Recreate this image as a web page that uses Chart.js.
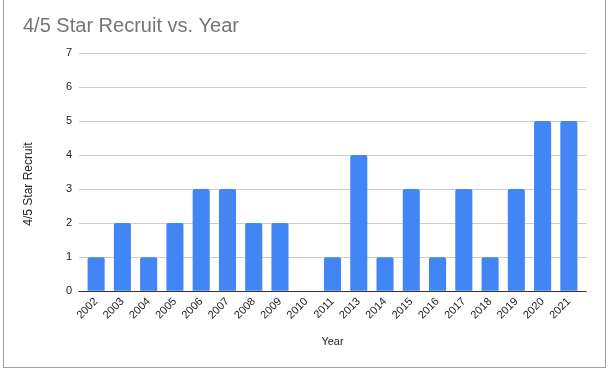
<!DOCTYPE html>
<html><head><meta charset="utf-8">
<script src="https://cdn.jsdelivr.net/npm/chart.js@4"></script>
<style>
html,body{margin:0;padding:0;background:#fff;width:608px;height:371px;overflow:hidden;}
#card{position:absolute;left:3px;top:-1px;width:603px;height:369px;border:1px solid #9e9e9e;border-top:none;box-sizing:border-box;}
canvas{position:absolute;left:0;top:0;}
</style></head>
<body>
<div id="card"></div>
<canvas id="c" width="608" height="371"></canvas>
<script>
const years = ["2002","2003","2004","2005","2006","2007","2008","2009","2010","2011","2013","2014","2015","2016","2017","2018","2019","2020","2021"];
const recruits = [1,2,1,2,3,3,2,2,0,1,4,1,3,1,3,1,3,5,5];
const yTicks = [0,1,2,3,4,5,6,7];
const yTitle = '4/5 Star Recruit';

const font = "'Liberation Sans', Arial, sans-serif";

const extras = {
  id: 'extras',
  afterDraw(chart) {
    const ctx = chart.ctx, ca = chart.chartArea, y = chart.scales.y;
    ctx.save();
    // extend gridlines slightly beyond the plot on the right
    y.ticks.forEach(t => {
      const py = Math.round(y.getPixelForValue(t.value)) + 0.5;
      ctx.strokeStyle = t.value === 0 ? '#333333' : '#cccccc';
      ctx.lineWidth = 1;
      ctx.beginPath();
      ctx.moveTo(t.value === 0 ? ca.left - 4.5 : ca.right, py);
      ctx.lineTo(ca.right + 4.5, py);
      ctx.stroke();
    });
    // y axis title
    ctx.translate(29, 184);
    ctx.rotate(-Math.PI / 2);
    ctx.fillStyle = '#222222';
    ctx.font = "12px " + font;
    ctx.textAlign = 'center';
    ctx.textBaseline = 'middle';
    ctx.fillText(yTitle, 0, 0);
    ctx.restore();
  }
};

new Chart(document.getElementById('c'), {
  type: 'bar',
  data: { labels: years, datasets: [{ label: yTitle, data: recruits, backgroundColor: '#4285F4', categoryPercentage: 0.65, barPercentage: 1, borderRadius: 2 }] },
  options: {
    responsive: false, animation: false,
    layout: { padding: { left: 23, right: 26, top: 0, bottom: 22 } },
    plugins: {
      legend: { display: false },
      tooltip: { enabled: false },
      title: { display: true, text: '4/5 Star Recruit vs. Year', align: 'start', color: '#757575',
               font: { family: font, size: 20, weight: 'normal', lineHeight: 1.2 }, padding: { top: 14, bottom: 15 } }
    },
    scales: {
      x: {
        grid: { display: false, drawTicks: false },
        border: { display: true, color: '#333333', width: 1 },
        ticks: { color: '#222222', font: { family: font, size: 11 }, maxRotation: 45, minRotation: 45, padding: 4, autoSkip: false },
        title: { display: true, text: 'Year', color: '#222222', font: { family: font, size: 11 }, padding: { top: 10, bottom: 0 } }
      },
      y: {
        min: 0, max: 7,
        afterBuildTicks: (s) => { s.ticks = yTicks.map(v => ({ value: v })); },
        grid: { color: '#cccccc', drawTicks: true, tickLength: 4, tickColor: '#cccccc' },
        border: { display: false },
        ticks: { color: '#222222', font: { family: font, size: 11 }, padding: 7 },
        title: { display: false },
        afterFit: (s) => { s.width = 60; }
      }
    }
  },
  plugins: [extras]
});
</script>
</body></html>
